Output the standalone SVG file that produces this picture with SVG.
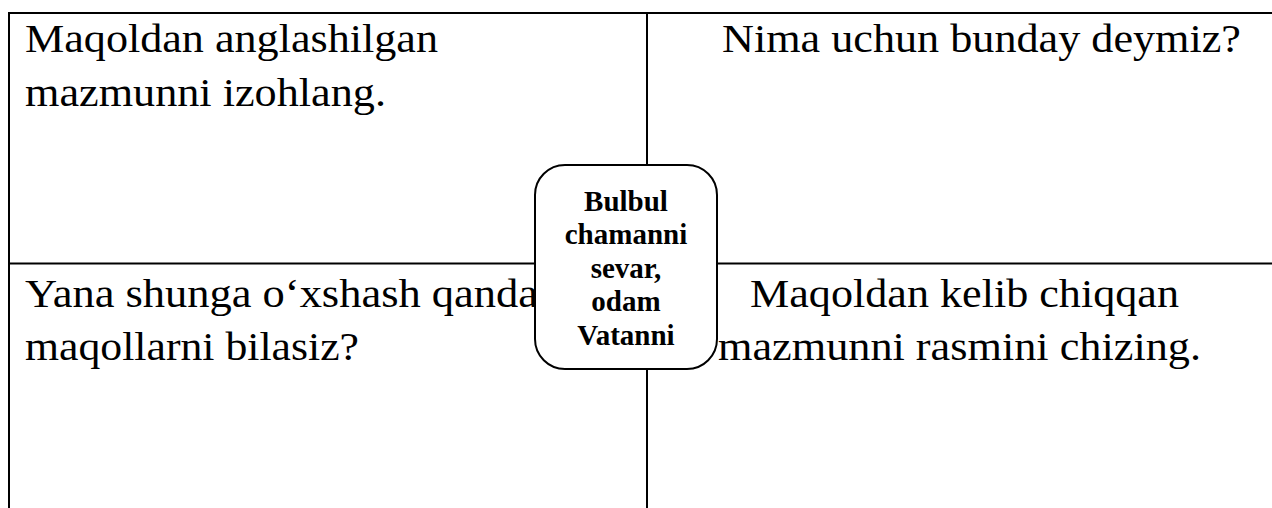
<svg xmlns="http://www.w3.org/2000/svg" width="1272" height="508" viewBox="0 0 1272 508">
  <style>
    .grid { stroke: #000; stroke-width: 2; fill: none; }
    .cell { font-family: "Liberation Serif", "Times New Roman", serif; font-size: 41px; fill: #000; }
    .node { fill: #fff; stroke: #000; stroke-width: 2; }
    .label { font-family: "Liberation Serif", "Times New Roman", serif; font-size: 29px; font-weight: bold; fill: #000; text-anchor: middle; }
  </style>
  <rect x="0" y="0" width="1272" height="508" fill="#fff"/>
  <g id="grid" class="grid">
    <line x1="9" y1="13" x2="1272" y2="13"/>
    <line x1="9" y1="12" x2="9" y2="508"/>
    <line x1="647" y1="13" x2="647" y2="508"/>
    <line x1="9" y1="263.5" x2="1272" y2="263.5"/>
  </g>
  <g id="cell-top-left" class="cell">
    <text x="25" y="52" textLength="413" lengthAdjust="spacingAndGlyphs">Maqoldan anglashilgan</text>
    <text x="25" y="106" textLength="361" lengthAdjust="spacingAndGlyphs">mazmunni izohlang.</text>
  </g>
  <g id="cell-top-right" class="cell">
    <text x="722" y="52" textLength="519" lengthAdjust="spacingAndGlyphs">Nima uchun bunday deymiz?</text>
  </g>
  <g id="cell-bottom-left" class="cell">
    <text x="25" y="307" textLength="513" lengthAdjust="spacingAndGlyphs">Yana shunga o‘xshash qanda</text>
    <text x="25" y="360" textLength="334" lengthAdjust="spacingAndGlyphs">maqollarni bilasiz?</text>
  </g>
  <g id="cell-bottom-right" class="cell">
    <text x="750" y="307" textLength="429" lengthAdjust="spacingAndGlyphs">Maqoldan kelib chiqqan</text>
    <text x="718" y="360" textLength="483" lengthAdjust="spacingAndGlyphs">mazmunni rasmini chizing.</text>
  </g>
  <g id="center-node">
    <rect class="node" x="535" y="165" width="182" height="204" rx="30" ry="30"/>
    <text class="label" x="626" y="211">Bulbul</text>
    <text class="label" x="626" y="244">chamanni</text>
    <text class="label" x="626" y="278">sevar,</text>
    <text class="label" x="626" y="311">odam</text>
    <text class="label" x="626" y="345">Vatanni</text>
  </g>
</svg>
